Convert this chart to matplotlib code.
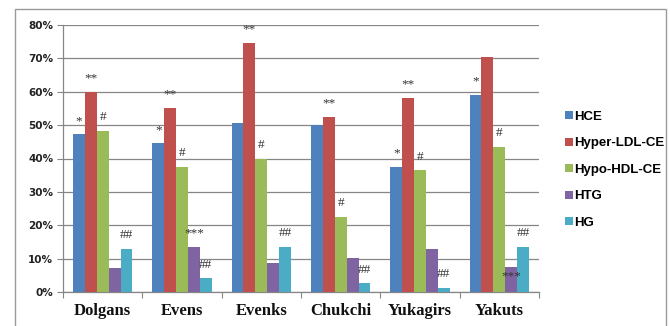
import matplotlib
matplotlib.use("Agg")
import matplotlib.pyplot as plt
from matplotlib.patches import Rectangle
import numpy as np

groups = ["Dolgans", "Evens", "Evenks", "Chukchi", "Yukagirs", "Yakuts"]
series = ["HCE", "Hyper-LDL-CE", "Hypo-HDL-CE", "HTG", "HG"]
colors = ["#4F81BD", "#C0504D", "#9BBB59", "#8064A2", "#4BACC6"]

hce = [47.2, 44.5, 50.5, 50.0, 37.5, 58.9]
hyper_ldl = [60.0, 55.2, 74.5, 52.5, 58.2, 70.4]
hypo_hdl = [48.2, 37.5, 40.0, 22.5, 36.5, 43.5]
htg = [7.1, 13.5, 8.8, 10.1, 13.0, 7.5]
hg = [12.9, 4.1, 13.5, 2.6, 1.3, 13.6]
values = [hce, hyper_ldl, hypo_hdl, htg, hg]

# significance marks above each bar
marks = [
    ["*", "*", "", "", "*", "*"],
    ["**", "**", "**", "**", "**", ""],
    ["#", "#", "#", "#", "#", "#"],
    ["", "***", "", "", "", "***"],
    ["##", "##", "##", "##", "##", "##"],
]
mark_dy = {(3, 5): -11}

yticks = [0, 10, 20, 30, 40, 50, 60, 70, 80]

fig = plt.figure(figsize=(6.7, 3.26), dpi=100)
fig.patch.set_facecolor("white")

# outer chart frame
fig.add_artist(Rectangle((15 / 670, -0.05), 651 / 670, 1.05 - 9 / 326,
                         transform=fig.transFigure, fill=False,
                         edgecolor="#9a9a9a", linewidth=1.0))

ax = fig.add_axes([63 / 670, 34 / 326, 476 / 670, 267 / 326])

x = np.arange(len(groups))
bw = 0.15
for i, (name, vals, col) in enumerate(zip(series, values, colors)):
    pos = x - 2 * bw + i * bw
    ax.bar(pos, vals, width=bw, color=col, label=name, zorder=3)
    for j, (p, v) in enumerate(zip(pos, vals)):
        m = marks[i][j]
        if m:
            ax.annotate(m, (p, v), xytext=(0, mark_dy.get((i, j), 5.5)),
                        textcoords="offset points", ha="center", va="bottom",
                        fontsize=9.5, family="Liberation Serif", color="#333333",
                        zorder=4)

ax.set_xlim(-0.5, len(groups) - 0.5)
ax.set_ylim(0, 80)
ax.set_yticks(yticks)
ax.set_yticklabels([f"{t}%" for t in yticks], fontsize=7.5,
                   family="DejaVu Sans", fontweight="bold", color="#222222")
ax.yaxis.grid(True, color="#868686", linewidth=0.9, zorder=0)
ax.set_axisbelow(True)

ax.set_xticks(np.arange(len(groups) + 1) - 0.5)
ax.set_xticklabels([])
ax.set_xticks(x, minor=True)
ax.set_xticklabels(groups, minor=True, fontsize=12, family="Liberation Serif",
                   fontweight="bold", color="#111111")
ax.tick_params(axis="x", which="minor", length=0, pad=8)
ax.tick_params(axis="x", which="major", length=4, color="#868686", direction="out")
ax.tick_params(axis="y", length=4, color="#868686", direction="out", pad=3)

for s in ["top", "right"]:
    ax.spines[s].set_visible(False)
for s in ["left", "bottom"]:
    ax.spines[s].set_color("#868686")
    ax.spines[s].set_linewidth(0.9)

leg = fig.legend(loc="upper left", bbox_to_anchor=(553 / 670, 1 - 99 / 326),
                 frameon=False, handlelength=0.6, handleheight=0.6,
                 handletextpad=0.12, labelspacing=1.1,
                 prop={"family": "Liberation Sans", "weight": "bold", "size": 9.5})

fig.savefig("out.png", dpi=100, facecolor="white")
